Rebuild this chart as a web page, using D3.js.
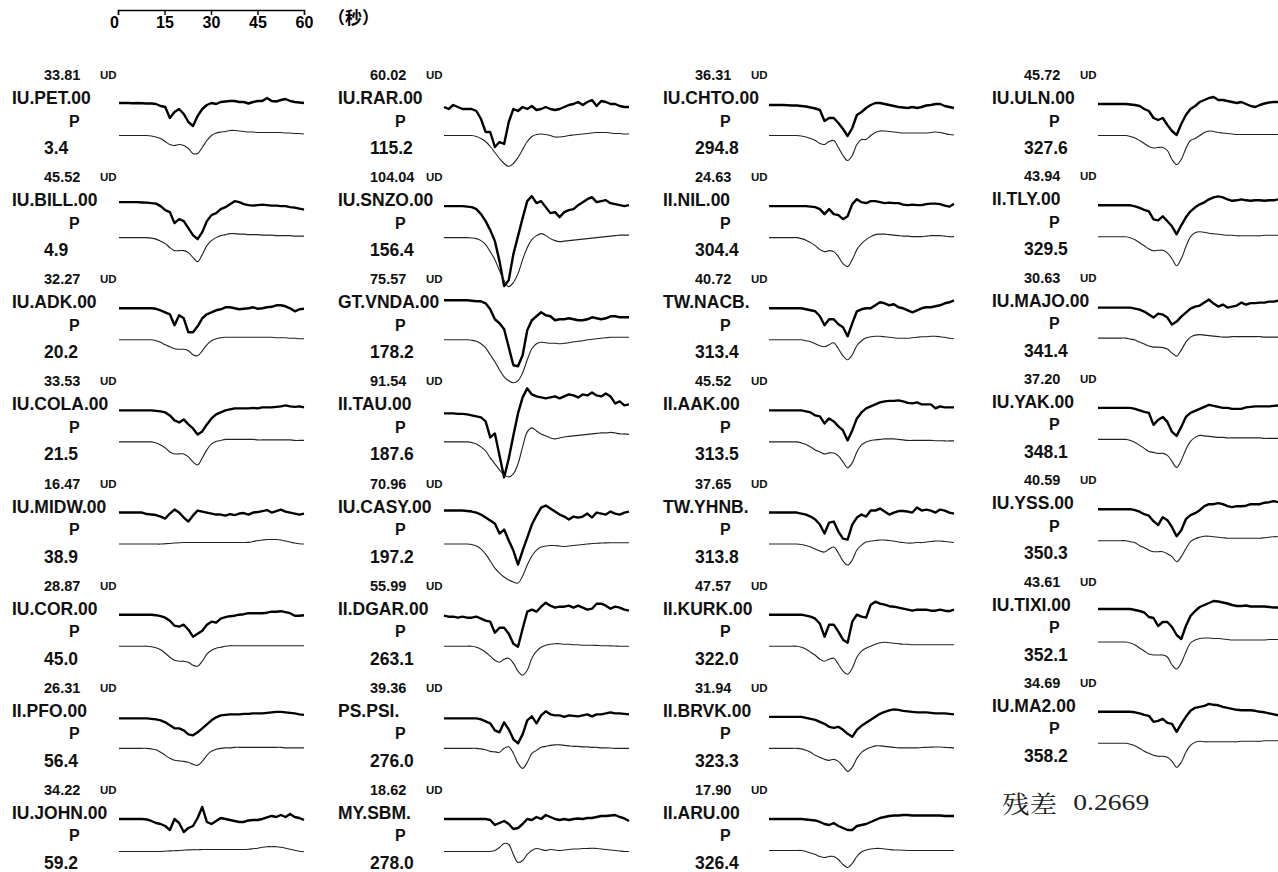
<!DOCTYPE html>
<html>
<head>
<meta charset="utf-8">
<title>P waveform fit</title>
<script src="https://cdn.jsdelivr.net/npm/d3@7"></script>
<style>
  body { margin: 0; padding: 0; background: #fff; }
</style>
</head>
<body>
<div id="chart"></div>
<script>

// station list, column by column (8, 8, 8, 7)
const stations = [
  'IU.PET.00', 'IU.BILL.00', 'IU.ADK.00', 'IU.COLA.00', 'IU.MIDW.00', 'IU.COR.00', 'II.PFO.00', 'IU.JOHN.00',
  'IU.RAR.00', 'IU.SNZO.00', 'GT.VNDA.00', 'II.TAU.00', 'IU.CASY.00', 'II.DGAR.00', 'PS.PSI.', 'MY.SBM.',
  'IU.CHTO.00', 'II.NIL.00', 'TW.NACB.', 'II.AAK.00', 'TW.YHNB.', 'II.KURK.00', 'II.BRVK.00', 'II.ARU.00',
  'IU.ULN.00', 'II.TLY.00', 'IU.MAJO.00', 'IU.YAK.00', 'IU.YSS.00', 'IU.TIXI.00', 'IU.MA2.00'
]
const maxAmps = [
  33.81, 45.52, 32.27, 33.53, 16.47, 28.87, 26.31, 34.22,
  60.02, 104.04, 75.57, 91.54, 70.96, 55.99, 39.36, 18.62,
  36.31, 24.63, 40.72, 45.52, 37.65, 47.57, 31.94, 17.90,
  45.72, 43.94, 30.63, 37.20, 40.59, 43.61, 34.69
]
const azimuths = [
  3.4, 4.9, 20.2, 21.5, 38.9, 45.0, 56.4, 59.2,
  115.2, 156.4, 178.2, 187.6, 197.2, 263.1, 276.0, 278.0,
  294.8, 304.4, 313.4, 313.5, 313.8, 322.0, 323.3, 326.4,
  327.6, 329.5, 341.4, 348.1, 350.3, 352.1, 358.2
]
const component = 'UD'
const phase = 'P'

// samples every 1.5 s over 60 s (41 values), amplitude as drawn
const sampleStep = 1.5
const timeTicks = [0, 15, 30, 45, 60]
const timeUnit = '（秒）'
const residualLabel = '残差'
const residual = 0.2669

const obsTraces = [
  [1,1,1,0.7,1,0.7,0.5,0.5,0,-2,-3,-14,-8,-5,-10,-18,-22,-12,-5,-1,1,0,2,2.5,3,3,2,2,0.5,2,3,3,6,3,2.5,4,5,3,2,1.5,1],
  [4,4,4,4,4,3.7,3.5,3,2.5,0,-4,-6,-17,-13,-15,-22,-29,-33,-26,-15,-9,-7,-3,-1,2,5,4,2,1,0.5,1,1.5,1,0.5,0.5,0,0,-1,-1.5,-2.5,-3.5],
  [0,0,0,0,0,0,0,0,-0.5,-2,-4,-6,-17,-7,-10,-24,-24,-18,-10,-6,-4,-2,-1,1,1,0,-1,-0.5,0,1,-0.5,0,1,1.5,3,3,2,0,-3,-1,-0.5],
  [0,0,0,0,0,0,0,0,-0.5,-1,-2,-5,-10,-12,-9,-14,-18,-24,-21,-14,-8,-4,-2,0,1,2,2,2,2,2.5,2,3,3,3,3.5,4,5,4,3.5,4,3],
  [0,0,0,0,0,0,-1.5,-2,-2.5,-4,-6,-1,3,0,-5,-9,-3,2,1,0,-1,-2,-2,-3,-1.5,-2.5,-1,-0.5,-2,0,0.5,1.5,2.5,0,1.5,3,1,0,-1,-2,-1],
  [0,0,0,0,0,0,0,0,-0.5,-1.5,-3,-6,-11,-12,-10,-15,-22,-19,-16,-10,-7,-8,-4,-2.5,-1.5,-1,0,0.5,1.5,1.5,1.5,1.5,2,3,3,3.5,2.5,1.5,-1,-1,-0.5],
  [-1.5,-1.5,-1.5,-1.5,-1.5,-1.5,-1.5,-2,-2.5,-3.5,-5.5,-8.5,-11.5,-11.5,-13.5,-17.5,-18.5,-15.5,-11.5,-7.5,-3.5,-0.5,1.5,2,2.5,2.5,2.5,3,3,3.5,3.5,3.5,4,4.5,5,5,4.5,4,3.5,2.5,2],
  [0,0,0,0,0,0,-0.5,-2,-4,-5,-7,-11,0,-4,-13,-9,-7,1,12,-3,-5,-2,1,0,-1,-2,-3,-3,-1.5,-1,-1,0,1.5,3,2,4,2,5,2,1,-1],

  [-3,-5,-1,-3,-5,-5,-5,-7,-15,-28,-28,-43,-38,-40,-18,-5,-7,-3,-5,-2,-6,-5,-3,-5,-6,-5,-3,-1,0,2,-1,2,4,-2,3,2,0,0,-2,-3,-3],
  [0,0,0,0,0,-0.5,-1,-3,-8,-15,-24,-35,-55,-80,-74,-48,-30,-12,5,10,3,5,-1,-7,-6,-11,-6,-4,-3,1,4,7,9,4,5,6,3,2,1,0,1],
  [8,8,8,8,8,8,7.5,7,7,5,-1,-11,-15,-21,-39,-57,-58,-47,-22,-12,-8,-4,-7,-8,-12,-11,-11,-10,-11,-12,-12,-11,-9,-10,-11,-10,-8,-8,-9,-9,-9],
  [-3,-3,-3,-3.5,-3.5,-4,-5,-6,-7,-11,-27,-23,-45,-67,-48,-25,-3,13,22,16,14,13,12,13,14,12,14,16,15,13,16,15,18,15,14,17,14,7,9,5,6],
  [2,2,2,2,2,1.5,1,0,-2,-5,-8,-11,-21,-17,-28,-38,-52,-38,-25,-12,-3,5,7,4,1,-2,-4,-7,-4,-5,-4,-1,-5,0,-1,-2,1,-1,-2,0,1],
  [-1,-2,-2,-3,-2,-3,-3,-2,-4,-6,-7,-18,-13,-13,-19,-29,-32,-14,3,5,3,8,12,9,7,8,8,9,7,9,7,5,6,11,11,9,6,8,7,5,4],
  [-1.5,-1.5,-1.5,-1.5,-1.5,-1.5,-1.5,-1.5,-2.5,-4.5,-6.5,-13.5,-15.5,-5.5,-12.5,-22.5,-26.5,-17.5,-3.5,0.5,-6.5,1.5,5.5,2.5,1.5,1.5,0,1.5,1,0.5,1.5,2.5,0.5,2.5,2.5,3.5,4.5,3.5,3.5,3,2.5],
  [0,0,0,0,0,0,0,0,0,0,-1,-6,-4,-2,-5,-10,-9,-5,0,-1,2,0,4,2,0,-1,0,-1,0,0.5,0,1,1,2,3,3,3.5,4,2,0.5,-2],

  [-1,-1,-1,-1,-1.3,-1.5,-1.5,-2,-2.5,-3.5,-4.5,-6,-17,-14,-14,-19,-25,-32,-24,-11,-8,-4,-1,1,1,0,-1,-2,-3,-3.5,-4,-3,-4,-3,-1.5,-1,0,0,-2,-3,-4],
  [0,0,0,0,0,0,0,0,0,-0.5,-1,-3,-8,-3,-8,-9,-13,-10,2,7,4,3,5,5,4,3,3.5,3,3,1.5,1,1.5,1,1,2,2.5,2.5,2,0.5,-0.5,2.5],
  [0,0,0,0,0,0,0,0,-1,-2,-3,-8,-17,-11,-11,-16,-19,-28,-15,-3,-1,0,0,3,6,5,3,4,1,0,-2,-4,-2,0,1,1,2,3,5,6,8],
  [0,0,0,0,0,0,0,0,-1,-2,-5,-6,-13,-8,-11,-16,-20,-30,-20,-8,-2,2,4,6,8,9,9.5,9.5,10,9,7.5,7,8,6,6,6,2,4,3,3,3],
  [0,0,0,0,0,0,0,-1,-2,-4,-7,-12,-21,-10,-9,-19,-26,-27,-12,-5,-2,-4,2,2,4,1,-2,0,1.5,1.5,1,0,5,2,3,2,0,3,2,0,-1],
  [0,0,0,0,0,0,0,0,-1,-2,-4,-9,-22,-10,-10,-17,-25,-28,-7,0,-2,-3,10,13,11,10,8.5,8,7,6,5,4,5,5,5,4,4,5,4,3.5,5],
  [0,0,0,0,0,0,0,0,-1,-2,-3,-5,-7,-10,-11,-10,-13,-17,-20,-13,-9,-6,-3,0,3,5,6.5,7.5,7,6,5.5,5,4.5,4.5,4.5,4,3.5,3.5,3.5,3,2.5],
  [0,0,0,0,0,0,0,0,-0.5,-1,-1.5,-3,-5,-6,-4,-7,-9,-11,-11,-7,-6,-5,-3,-1,1,2,3,3.5,3.5,4,4,3.5,3.5,3.5,3.5,3.5,3.5,3.5,3,3,3],

  [0,0,0,0,0,0,0,-0.5,-1,-2,-5,-7,-14,-16,-14,-21,-27,-31,-20,-11,-5,-2,2,4,6,7,4,4,3,2,1,2,0,-2,-3,-1,0.5,1.5,2,2,2],
  [0,0,0,0,0,0,0,0,-1,-2.5,-4.5,-6,-14,-15,-11,-16,-21,-29,-20,-12,-6,-2,1,3,6,8,9,8,6,4.5,5,6,5,4.5,5,5,4.5,5,5,6,6],
  [-1,-1,-1,-1,-1,-1,-1,-1,-2,-3,-5,-8,-11,-7,-8,-11,-18,-15,-10,-6,-2,0,1,4,7,3,0,2,-1,0,1,4,2,3.5,3.5,4,4,5,5,6,6],
  [0,0,0,0,0,0,0,0,-1,-2.5,-4,-5,-17,-12,-9,-14,-24,-28,-19,-9,-5,-3,-1,1,3,2,1,0,0,-1,-1,-1,0.5,1,1.5,1.5,1.5,1.5,2,2.5,2.5],
  [0,0,0,0,0,0,0,0,-1,-2.5,-5,-6.5,-12,-16,-8,-11,-18,-27,-21,-10,-6,-4,-1,3,5,5,6,5,3,2,3,3,3.5,5,5,5,6.5,7,8,7,7],
  [1.5,1.5,1.5,1.5,1.5,1.5,1.5,1.5,0.5,-0.5,-2,-6.5,-7.5,-15.5,-11.5,-11.5,-16.5,-24.5,-28.5,-15.5,-5.5,-0.5,3.5,5.5,7.5,9.5,9,8,7,5.5,4.5,4.5,5,4,4,4,4,3.5,3,3,3],
  [0,0,0,0,0,0,0,0,-0.5,-1.5,-3,-4,-10,-9,-7,-11,-12,-20,-12,-5,1,4,5,6,8,7,6.5,5,4,3,2,1.5,1.5,1.5,1,0,-0.5,-1.5,-2.5,-3.5,-3.5]
]

const synTraces = [
  [0,0,0,0,0,0,0,-0.5,-1.5,-3,-6,-9,-10,-9,-10,-13,-18,-18,-12,-5,0,2.5,3.5,4,5,5,4.5,4,3.5,3.5,3,3,3,3,3,3,2.5,2.5,2,2,1.5],
  [0,0,0,0,0,0,0,-0.5,-1.5,-3.5,-6,-10,-13,-13,-13,-15,-20,-24,-17,-8,-3,0,2,3,4,4,3.5,3.5,3,3,3,2.5,2.5,2.5,2,2,2,2,1.5,1.5,1.5],
  [0,0,0,0,0,0,0,0,-1,-2.5,-5,-7,-9,-9.5,-9.5,-11,-15,-16,-11,-5,-1,1,2,2.5,2.5,2.5,2.5,2.5,2.5,2.5,2.5,2.5,2.5,2.5,2,2,2,1.5,1.5,1,1],
  [0,0,0,0,0,0,0,0,-1,-3,-6,-10,-12,-12,-12,-15,-20,-23,-16,-8,-2,0.5,1.5,2.5,2.5,2.5,2.5,2.5,2.5,2.5,2,2,2,2,2,2,2,2,1.5,1.5,1.5],
  [0,0,0,0,0,0,0,0,0,0,0.3,0.6,1,1.3,1.5,1.5,1.5,1.5,1.5,1.5,1.5,1.5,1.5,1.5,1.5,1.5,1.5,1.5,1.7,2.5,3.5,4,4.5,4.5,4.5,4,3,2,1,0.3,0],
  [0,0,0,0,0,0,0,-0.5,-1.5,-3.5,-7,-11,-14,-15,-15,-16,-19,-20,-15,-8,-4,-2,-1,0,0.5,0.5,0.5,0.5,0.5,0.5,0.5,0.5,0.5,0.5,0.5,0.5,0.5,0.5,0.5,0.5,0.5],
  [0,0,0,0,0,0,0,-0.5,-1.5,-4,-7,-10,-12,-12.5,-13,-14,-16,-17,-13,-7,-3,-1,0,0.5,0.5,1,1,1,1,1,1,1,1,1,1,1,0.5,0.5,0.5,0.5,0.5],
  [-1,-1,-1,-1,-1,-1,-1,-1,-1,-1,-0.7,-0.4,-0.2,0,0.3,0.6,0.8,0.8,1,1,1,1,1,1,1,1,1,1,1.3,1.8,2.3,3.3,3.8,3.8,3.8,3.3,2.3,1.3,0.3,-0.7,-1.2],

  [0,0,0,0,0,0,0,-1,-3,-6,-11,-17,-23,-28,-31,-28,-22,-14,-6,-1,1,1.5,1,0,-1.5,-1.5,-1,0,0.5,1,1.5,2,2.5,3,3,3,2.5,2,2,1.5,1.5],
  [0,0,0,0,0,0,-0.3,-1,-3,-7,-14,-22,-33,-43,-49,-45,-36,-22,-10,-2,2,4,2,-1,-3,-4,-3.5,-3,-2.5,-2,-1.5,-1,-0.5,0,0.5,1,1.5,2,2.5,2.5,2.5],
  [0,0,0,0,0,0,-0.5,-1.5,-4,-8,-15,-22,-30,-37,-41,-43,-41,-33,-20,-9,-4,-2.5,-3,-3.5,-3.5,-4,-3.5,-3,-2,-1.5,-1,0,0.5,1,1.5,2,2.5,2.5,2.5,2.5,2.5],
  [0,0,0,0,0,0,-0.5,-2,-5,-9,-16,-22,-28,-33,-35,-32,-22,-5,10,14,11,8,6,4,3,4,5,5.5,6,6.5,7,7.5,8,8.5,9,9,9.5,9,8,8,7.5],
  [0,0,0,0,0,0,-0.5,-2,-5,-10,-17,-24,-29,-33,-36,-38,-39,-32,-21,-12,-6,-3,-2,-1.5,-1.5,-2,-2.5,-2,-1.5,-1,-0.5,0,0.5,0.8,1,1.2,1.3,1.3,1.3,1.3,1.3],
  [0,0,0,0,0,0,0,-1,-3,-6,-10,-14,-16,-13,-12,-17,-25,-29,-24,-12,-5,-1,1,2,2.5,2.5,2,2,1.5,1.5,1,1,1,0.8,0.5,0.5,0.3,0.2,0,0,0],
  [0,0,0,0,0,0,0,0,-0.5,-1.5,-3,-3.5,-4,0,1.5,-5,-15,-20,-14,-5,-2,1,2,3,3.5,3.5,3,2.5,2,2,1.5,1.5,1,1,0.5,0.5,0.3,0,0,0,0],
  [-1,-1,-1,-1,-1,-1,-1,-1,-1,-1,-1,0,3,7,6,-4,-12,-10,-4,0,2,1,0,1,0.5,0,0.5,1,1.5,1.5,2,2,2.3,2,1.5,1,0.5,0,-0.5,-1,-1],

  [0,0,0,0,0,0,0,-0.5,-1.5,-3,-5,-8,-9,-6,-5,-12,-20,-25,-20,-9,-4,-4,0,3,4.5,4.5,4,3.5,3,2.5,2.5,2.5,2.5,2.5,2.5,3,3.5,3,2,1,0.5],
  [0,0,0,0,0,0,0,-1,-2.5,-5,-8,-12,-14,-13,-14,-19,-26,-29,-22,-12,-6,-2,1,3,3.5,3.5,3,2.5,2,1.5,1.5,1,1,1,1.5,2,2,2,1.5,1,1],
  [0,0,0,0,0,0,0,0,-1,-2,-4,-6,-7,-5,-3,-9,-16,-20,-15,-6,-1,2,3,3.5,3.5,3,2.5,2,1.5,1.5,1.5,2,2.5,3,3,3.5,3.5,3,2.5,1.5,1],
  [0,0,0,0,0,0,0,-1,-2.5,-5,-8,-10,-12,-11,-11,-14,-20,-26,-21,-10,-3,0,1.5,2,2.5,3,3,3,2.5,2,1.5,1.5,1.5,1.5,1.5,1.5,1.2,1.2,1,1,1],
  [0,0,0,0,0,0,0,-0.5,-1.5,-3,-5,-7,-8,-5,-3,-9,-17,-21,-16,-6,-1,2,3,3.5,4,4,3.5,3,2,1.5,1,1,1.5,1.5,2,2.5,3,3,2.5,2,1.5],
  [0,0,0,0,0,0,0,-1,-3,-6,-9,-13,-15,-13,-12,-18,-25,-28,-22,-11,-5,-2,0,2,3.5,4,3.5,3,2.5,2,2,1.5,1.5,1.5,1.5,1.5,1.5,1.5,1.5,1.5,1.5],
  [0,0,0,0,0,0,0,-0.5,-2,-4,-7,-9,-11,-12,-11,-13,-18,-23,-19,-10,-4,-1,1,2.5,2.5,2,1.5,1,0.5,0.5,0.5,0.5,0.5,0.8,1,1.2,1.3,1.3,1,0.7,0.5],
  [0,0,0,0,0,0,0,0,-1,-2.5,-4,-6,-7,-6,-6,-9,-14,-17,-13,-6,-1.5,0.5,1.5,2,2,1.5,1,0.5,0.5,0.3,0,0,0,0,0,0,0,0,0,0,0],

  [0,0,0,0,0,0,0,-1,-2.5,-5,-8,-11,-12.5,-12,-12,-15,-24,-29,-24,-13,-5,-3,0,3,4.5,4,3,2.5,2,1.5,1,1,1,1,1,1,1,1,1,1,1],
  [0,0,0,0,0,0,0,-1,-3,-6,-9,-12,-14,-13.5,-13.5,-16,-22,-29,-22,-10,0,4,5,4.5,3.5,3,2.5,2,1.5,1.5,1,1,1,1,1,1,1.5,1.5,1.5,1.5,1.5],
  [0,0,0,0,0,0,0,-1,-2,-4,-6,-8,-9,-9,-9.5,-11,-15,-18,-12,-4,1,3,3.5,3,2.5,2,1.5,1,1,1.5,1.5,1.5,1.5,1.5,1.5,1.5,1,1,1,1,1],
  [0,0,0,0,0,0,0,-1,-3,-6,-9,-12,-13,-14,-14,-16,-22,-28,-21,-10,-2,2,4,3.5,3,2.5,2,2,1.5,1.5,1.5,1.5,1.5,1.5,1.5,1.5,1,1,1,1,1],
  [0,0,0,0,0,0,0,-1,-2,-5,-7,-9.5,-11,-11,-11,-13,-16,-21,-16,-8,-1,2,3.5,4.5,4.5,4,3.5,3,2.5,2.5,2.5,2.5,2.5,2.5,2.5,2.5,3,3.5,4,4,4],
  [0,0,0,0,0,0,0,-1,-3,-6,-9,-12,-13,-13,-13,-15,-23,-27,-21,-10,-1,2,3.5,4,4,3.5,3.5,3,2.5,2,2,2,2,2,2,2,2,2.5,2.5,2.5,2.5],
  [0,0,0,0,0,0,0,-1,-2.5,-5,-8,-10,-12,-13,-13,-14,-18,-24,-19,-9,-2,1,2,1.5,1.5,1.5,1.5,1.5,1.5,1.5,1.5,2,2,2,2,2,2.5,2.5,2.5,2.5,2.5]
]

// ---- layout ----
const width = 1278, height = 872
const perCol = 8
const labelX = [12, 338, 663, 992]
const traceX = [119, 444, 769, 1098]
const traceW = 185
const firstRow = 75
const rowGap = [102.14, 102.14, 102.14, 101.3]
const obsLevel = 29, synLevel = 60.5
const sans = "'Liberation Sans', Arial, sans-serif"
const cjk = "'Noto Sans CJK SC', sans-serif"

const svg = d3.select('#chart').append('svg')
  .attr('width', width).attr('height', height)
  .style('background', '#fff')

// time bar on top
const tBar = d3.scaleLinear().domain([0, 60]).range([118, 304])
const axis = svg.append('g')
  .attr('transform', 'translate(0,10)')
  .call(d3.axisBottom(tBar).tickValues(timeTicks).tickSize(5).tickSizeOuter(5))
axis.selectAll('path, line').attr('stroke', '#000').attr('stroke-width', 1.4)
axis.selectAll('text')
  .attr('fill', '#000')
  .attr('font-family', sans)
  .attr('font-weight', 'bold')
  .attr('font-size', 16)
  .attr('y', 7)
axis.selectAll('.tick text').filter(d => d == 0).attr('dx', -4)
svg.append('text')
  .text(timeUnit)
  .attr('x', 328).attr('y', 24)
  .attr('font-family', cjk).attr('font-weight', 'bold').attr('font-size', 17)
  .attr('fill', '#000')

const line = d3.line().curve(d3.curveLinear)
const smooth = d3.line().curve(d3.curveCatmullRom)

stations.forEach((name, k) => {
  const col = Math.floor(k / perCol), row = k % perCol
  const y0 = firstRow + row * rowGap[col]
  const lx = labelX[col]
  const g = svg.append('g').attr('class', 'panel').attr('transform', `translate(0,${y0})`)

  const txt = (s, x, dy, size) => g.append('text')
    .text(s)
    .attr('x', x).attr('y', dy)
    .attr('dominant-baseline', 'central')
    .attr('font-family', sans)
    .attr('font-weight', 'bold')
    .attr('font-size', size)
    .attr('fill', '#111')

  txt(maxAmps[k].toFixed(2), lx + 32, 0, 14.5)
  txt(component, lx + 88, 0, 11.5)
  txt(name, lx, 23, 17.5)
  txt(phase, lx + 57, 46, 16)
  txt(azimuths[k].toFixed(1), lx + 32, 73, 17.5)

  const x = d3.scaleLinear().domain([0, 60]).range([traceX[col], traceX[col] + traceW])
  const yObs = d3.scaleLinear().domain([-1, 1]).range([obsLevel + 1, obsLevel - 1])
  const ySyn = d3.scaleLinear().domain([-1, 1]).range([synLevel + 1, synLevel - 1])

  g.append('path')
    .attr('d', line(obsTraces[k].map((v, i) => [x(i * sampleStep), yObs(v)])))
    .attr('fill', 'none').attr('stroke', '#000')
    .attr('stroke-width', 2.4).attr('stroke-linejoin', 'round')

  g.append('path')
    .attr('d', smooth(synTraces[k].map((v, i) => [x(i * sampleStep), ySyn(v)])))
    .attr('fill', 'none').attr('stroke', '#222')
    .attr('stroke-width', 1.1)
})

// residual of the fit
const res = svg.append('g').attr('transform', 'translate(1002,802) scale(1.15,1)')
res.append('text')
  .text(residualLabel)
  .attr('x', 0).attr('y', 0)
  .attr('dominant-baseline', 'central')
  .attr('font-family', "'Noto Serif CJK SC', " + cjk)
  .attr('font-size', 24).attr('fill', '#222')
res.append('text')
  .text(residual.toFixed(4))
  .attr('x', 62).attr('y', 0)
  .attr('dominant-baseline', 'central')
  .attr('font-family', "'Liberation Serif', 'Times New Roman', serif")
  .attr('font-size', 24).attr('fill', '#222')

</script>
</body>
</html>
